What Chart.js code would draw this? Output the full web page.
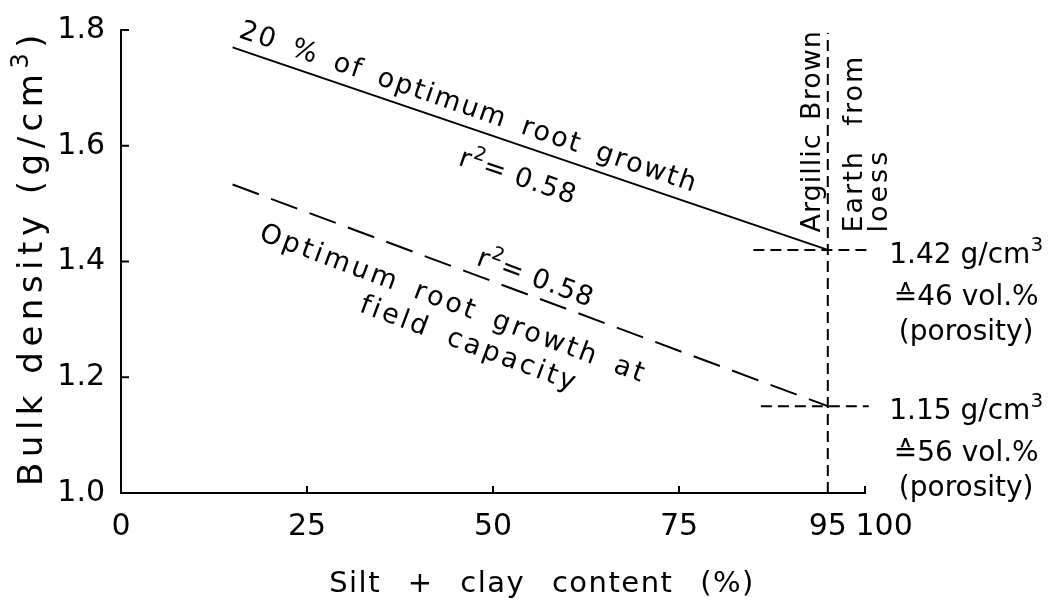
<!DOCTYPE html>
<html>
<head>
<meta charset="utf-8">
<script src="https://cdn.jsdelivr.net/npm/chart.js@4.4.1/dist/chart.umd.min.js"></script>
<style>
    html, body { margin: 0; padding: 0; background: #fff; }
</style>
</head>
<body>
<canvas id="chart" width="1064" height="604"></canvas>
<script>
// values
const siltClay = [15, 95];
const density20 = [1.77, 1.42];     // 20 % of optimum root growth
const densityOpt = [1.533, 1.15];   // optimum root growth at field capacity
const xTicks = [0, 25, 50, 75, 95, 100];
const yTicks = [1.0, 1.2, 1.4, 1.6, 1.8];
const loessX = 95;
const loessDensity = [1.42, 1.15];
const loessPorosity = [46, 56];
const guideStart = [85, 86];
const guideEnd = 100.5;
const guideTop = 1.795;

const FONT = '"DejaVu Sans", sans-serif';

// texts written along the two lines (line: 0 = solid, 1 = dashed)
const lineNotes = [
    {parts: ['20 % of optimum root growth'], x: 15.7, y: 1.788, line: 0, ls: 2, ws: 6},
    {parts: ['r', {sup: '2'}, '= 0.58'], x: 45.2, y: 1.567, line: 0, ls: 1, ws: 0},
    {parts: ['r', {sup: '2'}, '= 0.58'], x: 47.6, y: 1.395, line: 1, ls: 1, ws: 0},
    {parts: ['Optimum root growth at'], x: 18.4, y: 1.438, line: 1, ls: 3, ws: 6},
    {parts: ['field capacity'], x: 31.9, y: 1.314, line: 1, ls: 3, ws: 8}
];
const soilNote = [
    {text: 'Argillic Brown', x: 93.95, ls: 1, ws: 4},
    {text: 'Earth from', x: 99.6, ls: 2, ws: 14},
    {text: 'loess', x: 102.96, ls: 3, ws: 0}
];

function drawParts(ctx, parts, size, align) {
    let total = 0;
    for (const p of parts) {
        const sup = typeof p === 'object';
        ctx.font = (sup ? Math.round(size * 0.7) : size) + 'px ' + FONT;
        total += ctx.measureText(sup ? p.sup : p).width;
    }
    let x = align === 'center' ? -total / 2 : 0;
    for (const p of parts) {
        const sup = typeof p === 'object';
        const s = sup ? p.sup : p;
        ctx.font = (sup ? Math.round(size * 0.7) : size) + 'px ' + FONT;
        ctx.fillText(s, x, sup ? -size * 0.42 : 0);
        x += ctx.measureText(s).width;
    }
}

const notesPlugin = {
    id: 'notes',
    afterDatasetsDraw(chart) {
        const {ctx, chartArea} = chart;
        const xs = chart.scales.x, ys = chart.scales.y;
        ctx.save();
        ctx.fillStyle = '#000';
        ctx.strokeStyle = '#000';
        ctx.textAlign = 'left';
        ctx.textBaseline = 'alphabetic';

        // inward tick marks
        ctx.lineWidth = 2;
        ctx.beginPath();
        yTicks.slice(1).forEach(v => {
            const py = ys.getPixelForValue(v);
            ctx.moveTo(chartArea.left, py);
            ctx.lineTo(chartArea.left + 8, py);
        });
        [25, 50, 75, 100].forEach(v => {
            const px = xs.getPixelForValue(v);
            ctx.moveTo(px, chartArea.bottom);
            ctx.lineTo(px, chartArea.bottom - 7);
        });
        ctx.stroke();

        // angle of each regression line on screen
        const angles = [density20, densityOpt].map(d => Math.atan2(
            ys.getPixelForValue(d[1]) - ys.getPixelForValue(d[0]),
            xs.getPixelForValue(siltClay[1]) - xs.getPixelForValue(siltClay[0])));

        lineNotes.forEach(n => {
            ctx.save();
            ctx.translate(xs.getPixelForValue(n.x), ys.getPixelForValue(n.y));
            ctx.rotate(angles[n.line]);
            ctx.letterSpacing = n.ls + 'px';
            ctx.wordSpacing = n.ws + 'px';
            drawParts(ctx, n.parts, 27, 'left');
            ctx.restore();
        });

        // soil type, written upwards
        soilNote.forEach(n => {
            ctx.save();
            ctx.translate(xs.getPixelForValue(n.x), ys.getPixelForValue(1.45));
            ctx.rotate(-Math.PI / 2);
            ctx.letterSpacing = n.ls + 'px';
            ctx.wordSpacing = n.ws + 'px';
            drawParts(ctx, [n.text], 27, 'left');
            ctx.restore();
        });

        // values at the loess line
        const cx = xs.getPixelForValue(113.6);
        loessDensity.forEach((d, i) => {
            const py = ys.getPixelForValue(d);
            const rows = [
                [d.toFixed(2) + ' g/cm', {sup: '3'}],
                ['\u2259' + loessPorosity[i] + ' vol.%'],
                ['(porosity)']
            ];
            const dy = [13, 55, 90];
            rows.forEach((r, k) => {
                ctx.save();
                ctx.translate(cx, py + dy[k]);
                drawParts(ctx, r, 28, 'center');
                ctx.restore();
            });
        });

        // axis titles
        ctx.save();
        ctx.translate(42, (chartArea.top + chartArea.bottom) / 2 - 4);
        ctx.rotate(-Math.PI / 2);
        ctx.letterSpacing = '5.5px';
        drawParts(ctx, ['Bulk density (g/cm', {sup: '3'}, ')'], 34, 'center');
        ctx.restore();

        ctx.save();
        ctx.translate(542, 592);
        ctx.letterSpacing = '1.5px';
        ctx.wordSpacing = '16px';
        drawParts(ctx, ['Silt + clay content (%)'], 29, 'center');
        ctx.restore();

        ctx.restore();
    }
};

const pts = (xv, yv) => xv.map((x, i) => ({x: x, y: yv[i]}));

const lineStyle = {
    showLine: true,
    pointRadius: 0,
    borderColor: '#000',
    borderWidth: 2,
    fill: false,
    clip: false
};

new Chart(document.getElementById('chart'), {
    type: 'scatter',
    data: {
        datasets: [
            Object.assign({label: '20 % of optimum root growth', data: pts(siltClay, density20)}, lineStyle),
            Object.assign({label: 'Optimum root growth at field capacity', data: pts(siltClay, densityOpt),
                borderDash: [28, 13]}, lineStyle),
            Object.assign({label: 'guide 1.42', data: pts([guideStart[0], guideEnd], [loessDensity[0], loessDensity[0]]),
                borderDash: [11, 6]}, lineStyle),
            Object.assign({label: 'guide 1.15', data: pts([guideStart[1], guideEnd], [loessDensity[1], loessDensity[1]]),
                borderDash: [11, 6]}, lineStyle),
            Object.assign({label: 'Argillic Brown Earth from loess', data: pts([loessX, loessX], [1.0, guideTop]),
                borderDash: [11, 6]}, lineStyle)
        ]
    },
    options: {
        responsive: false,
        animation: false,
        layout: {padding: {top: 30, right: 199, left: 0, bottom: 0}},
        plugins: {
            legend: {display: false},
            tooltip: {enabled: false}
        },
        scales: {
            x: {
                type: 'linear',
                min: 0,
                max: 100,
                grid: {display: false},
                border: {display: true, color: '#000', width: 2},
                afterBuildTicks: s => { s.ticks = xTicks.map(v => ({value: v})); },
                afterFit: s => { s.height = 111; },
                ticks: {
                    color: '#000',
                    padding: 8,
                    maxRotation: 0,
                    autoSkip: false,
                    font: {family: FONT, size: 30},
                    callback: v => v === 100 ? '\u2007\u2007100' : String(v)
                }
            },
            y: {
                type: 'linear',
                min: 1.0,
                max: 1.8,
                grid: {display: false},
                border: {display: true, color: '#000', width: 2},
                afterBuildTicks: s => { s.ticks = yTicks.map(v => ({value: v})); },
                afterFit: s => { s.width = 121; },
                ticks: {
                    color: '#000',
                    padding: 8,
                    autoSkip: false,
                    font: {family: FONT, size: 30},
                    callback: v => v.toFixed(1)
                }
            }
        }
    },
    plugins: [notesPlugin]
});
</script>
</body>
</html>
